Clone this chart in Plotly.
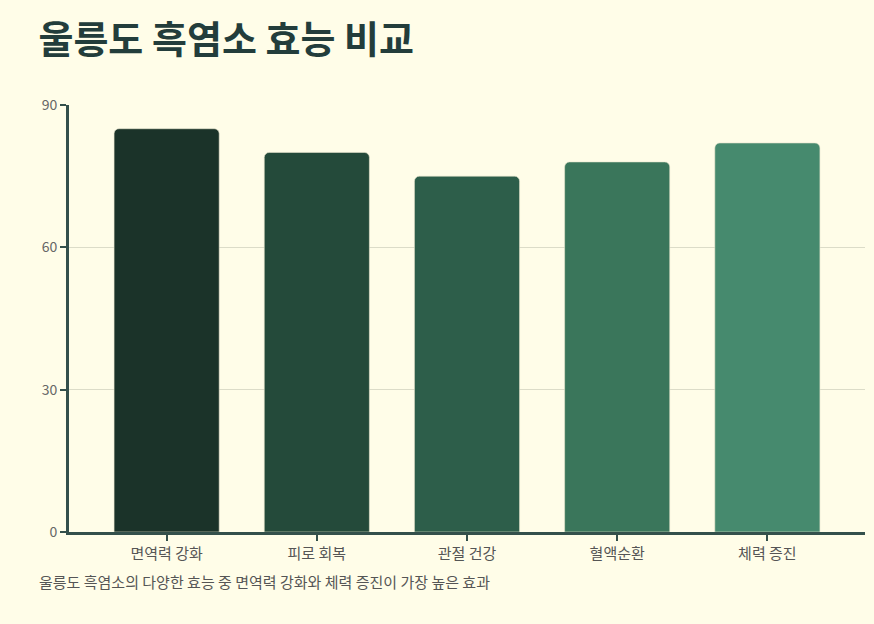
import plotly.graph_objects as go

# 효능 항목과 점수
categories = ["면역력 강화", "피로 회복", "관절 건강", "혈액순환", "체력 증진"]
scores = [85, 80, 75, 78, 82]
bar_colors = ["#1B3329", "#244A3A", "#2D5E4A", "#3A765B", "#468A6E"]
y_ticks = [0, 30, 60, 90]

title_text = "울릉도 흑염소 효능 비교"
note_text = "울릉도 흑염소의 다양한 효능 중 면역력 강화와 체력 증진이 가장 높은 효과"

bg = "#FFFDE8"
axis_col = "#34504B"
font_family = "Noto Sans CJK KR, Noto Sans, sans-serif"

fig = go.Figure()
fig.add_trace(go.Bar(
    x=categories,
    y=scores,
    marker=dict(color=bar_colors, line=dict(color="#E8E6CF", width=0.6)),
    hovertemplate="%{x}: %{y}<extra></extra>",
))

fig.update_layout(
    width=874,
    height=624,
    paper_bgcolor=bg,
    plot_bgcolor=bg,
    margin=dict(l=69, r=9, t=105, b=92),
    bargap=0.3,
    barcornerradius=5,
    showlegend=False,
    font=dict(family=font_family, color="#555555", size=14),
    title=dict(
        text="<b>" + title_text + "</b>",
        x=0.044, xanchor="left",
        y=0.936, yanchor="middle",
        font=dict(size=38, color="#233D3B", family=font_family),
    ),
    annotations=[dict(
        text=note_text,
        xref="paper", yref="paper",
        x=-0.04, y=-0.117,
        xanchor="left", yanchor="middle",
        showarrow=False,
        font=dict(size=15, color="#555555"),
    )],
)

fig.update_xaxes(
    range=[-0.65, 4.65],
    showline=True, linecolor=axis_col, linewidth=3,
    ticks="outside", ticklen=6, tickwidth=2, tickcolor=axis_col,
    tickfont=dict(size=15, color="#555555"),
    showgrid=False,
)
fig.update_yaxes(
    range=[0, 90],
    tickvals=y_ticks,
    showline=True, linecolor=axis_col, linewidth=3,
    ticks="outside", ticklen=6, tickwidth=2, tickcolor=axis_col,
    tickfont=dict(size=14, color="#666666"),
    showgrid=True, gridcolor="#DCDCC8", gridwidth=1,
    zeroline=False,
)

fig.write_html(
    "out.html",
    config={"displayModeBar": False},
    post_script="document.body.style.margin='0';",
)
